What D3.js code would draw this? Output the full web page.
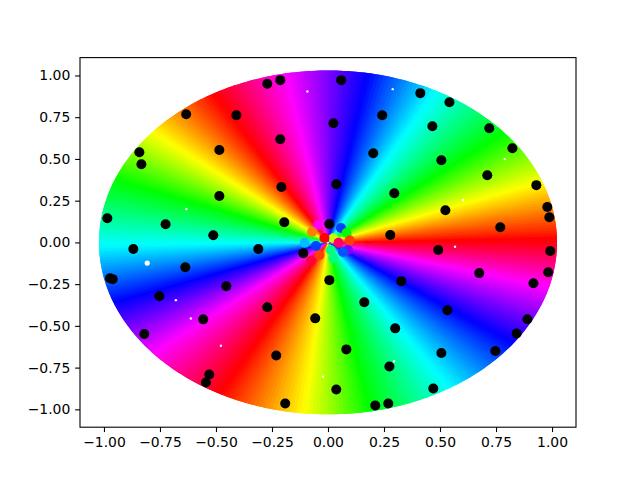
<!DOCTYPE html>
<html>
<head>
<meta charset="utf-8">
<style>
  html, body { margin: 0; padding: 0; background: #fff; }
  svg { display: block; }
  text { font-family: "DejaVu Sans", sans-serif; }
</style>
<script src="https://cdn.jsdelivr.net/npm/d3@7"></script>
</head>
<body>
<div id="app"></div>
<script>
const xTicks = [-1, -0.75, -0.5, -0.25, 0, 0.25, 0.5, 0.75, 1];
const yTicks = [-1, -0.75, -0.5, -0.25, 0, 0.25, 0.5, 0.75, 1];

// where each pure hue sits around the disc (degrees)
const bandAngle = [1, 20.7, 39.5, 62, 80, 100.6, 120, 140, 158.5, 181, 200.5, 220, 242, 264, 280.5, 302, 324, 345, 361];
const bandHue = [0, 60, 120, 180, 240, 300, 360, 420, 480, 540, 600, 660, 720, 780, 840, 900, 960, 1020, 1080];

// the blobs in the middle, where the bands collapse
const coreX = [-0.045, -0.071, 0.058, 0.083, 0.097, -0.104, 0.024, 0.013, -0.076, -0.038, 0.089, 0.067, -0.054, 0.024, -0.016, 0.047];
const coreY = [0.104, 0.064, 0.086, 0.056, 0.013, -0.002, -0.094, -0.047, -0.11, -0.077, -0.046, -0.058, -0.022, 0.025, 0.026, -0.002];
const coreHue = [300, 30, 225, 120, 15, 195, 150, 150, 345, 15, 270, 220, 225, 75, 0, 335];

// small holes left between the dots
const gapX = [-0.807, -0.632, -0.092, 0.289, 0.603, -0.679, -0.022, 0.295, 0.789, 0.567, -0.612, -0.478];
const gapY = [-0.124, 0.2, 0.904, 0.918, 0.254, -0.346, -0.805, -0.712, 0.499, -0.026, -0.456, -0.619];

const dotX = [-0.271, -0.213, -0.633, -0.409, -0.213, -0.842, -0.833, -0.485, -0.208, -0.485, -0.985, -0.725, -0.195, -0.512, -0.869, -0.311, -0.11, -0.637, -0.973, -0.961, -0.454, -0.753, -0.271, -0.557, -0.057, -0.82, -0.231, -0.53, -0.545, -0.191, 0.059, 0.412, 0.542, 0.242, 0.024, 0.466, 0.72, 0.823, 0.202, 0.506, 0.711, 0.93, 0.037, 0.296, 0.979, 0.988, 0.524, 0.006, 0.769, 0.278, 0.492, 0.992, 0.675, 0.983, 0.327, 0.006, 0.917, 0.162, 0.533, 0.89, 0.3, 0.842, 0.082, 0.747, 0.506, 0.274, 0.47, 0.037, 0.269, 0.211];
const dotY = [0.95, 0.972, 0.768, 0.762, 0.618, 0.54, 0.468, 0.554, 0.332, 0.278, 0.145, 0.109, 0.121, 0.043, -0.04, -0.04, -0.065, -0.149, -0.215, -0.22, -0.263, -0.323, -0.388, -0.461, -0.455, -0.549, -0.677, -0.791, -0.839, -0.965, 0.972, 0.894, 0.84, 0.762, 0.714, 0.696, 0.684, 0.564, 0.534, 0.492, 0.402, 0.343, 0.348, 0.294, 0.212, 0.151, 0.193, 0.11, 0.091, 0.044, -0.046, -0.052, -0.184, -0.179, -0.232, -0.226, -0.245, -0.358, -0.406, -0.46, -0.515, -0.545, -0.641, -0.651, -0.663, -0.743, -0.875, -0.881, -0.965, -0.977];

const width = 640;
const height = 480;
const left = 80;
const right = 576;
const top_ = 57.6;
const bottom = 427.2;
const lim = 1.107;
const dotR = 5;

const x = d3.scaleLinear().domain([-lim, lim]).range([left, right]);
const y = d3.scaleLinear().domain([-lim, lim]).range([bottom, top_]);
const hue = d3.scaleLinear().domain(bandAngle).range(bandHue);

function hueColor(h) {
  return d3.hsl(((h % 360) + 360) % 360, 1, 0.5).formatHex();
}

const svg = d3
  .create("svg")
  .attr("width", width)
  .attr("height", height)
  .attr("viewBox", [0, 0, width, height]);

// the disc, thin wedges coloured through the hue scale
// each wedge runs under the next one so no seams show
const wedge = d3.line();
const rimX = (a) => x(Math.cos(a)) + dotR * Math.cos(a);
const rimY = (a) => y(Math.sin(a)) - dotR * Math.sin(a);

svg
  .append("g")
  .selectAll("path")
  .data(d3.range(1, 361))
  .join("path")
  .attr("d", (d) => {
    const a0 = (d * Math.PI) / 180;
    const a1 = ((d + 2) * Math.PI) / 180;
    const amid = ((d + 1) * Math.PI) / 180;
    return (
      wedge([
        [x(0), y(0)],
        [rimX(a0), rimY(a0)],
        [rimX(amid), rimY(amid)],
        [rimX(a1), rimY(a1)],
      ]) + "Z"
    );
  })
  .attr("fill", (d) => hueColor(hue(d + 0.5)));

svg
  .append("g")
  .selectAll("circle")
  .data(coreX)
  .join("circle")
  .attr("cx", (d) => x(d))
  .attr("cy", (d, i) => y(coreY[i]))
  .attr("r", dotR)
  .attr("fill", (d, i) => hueColor(coreHue[i]));

svg
  .append("g")
  .selectAll("circle")
  .data(gapX)
  .join("circle")
  .attr("cx", (d) => x(d))
  .attr("cy", (d, i) => y(gapY[i]))
  .attr("r", (d, i) => (i === 0 ? 2.6 : 1.2))
  .attr("fill", "#fff");

svg
  .append("g")
  .selectAll("circle")
  .data(dotX)
  .join("circle")
  .attr("cx", (d) => x(d))
  .attr("cy", (d, i) => y(dotY[i]))
  .attr("r", dotR)
  .attr("fill", "#000");

const fmt = d3.format(".2f");

const xAxis = svg
  .append("g")
  .attr("transform", `translate(0,${bottom})`)
  .call(d3.axisBottom(x).tickValues(xTicks).tickFormat(fmt).tickSize(4.86).tickPadding(4.86));

const yAxis = svg
  .append("g")
  .attr("transform", `translate(${left},0)`)
  .call(d3.axisLeft(y).tickValues(yTicks).tickFormat(fmt).tickSize(4.86).tickPadding(4.86));

[xAxis, yAxis].forEach((axis) => {
  axis.select(".domain").remove();
  axis.selectAll("line").attr("stroke", "#000").attr("stroke-width", 1.1);
  axis
    .selectAll("text")
    .attr("fill", "#000")
    .attr("font-size", "13.9px")
    .attr("font-family", '"DejaVu Sans", sans-serif');
});

svg
  .append("rect")
  .attr("x", left)
  .attr("y", top_)
  .attr("width", right - left)
  .attr("height", bottom - top_)
  .attr("fill", "none")
  .attr("stroke", "#000")
  .attr("stroke-width", 1.1);

document.getElementById("app").append(svg.node());
</script>
</body>
</html>
